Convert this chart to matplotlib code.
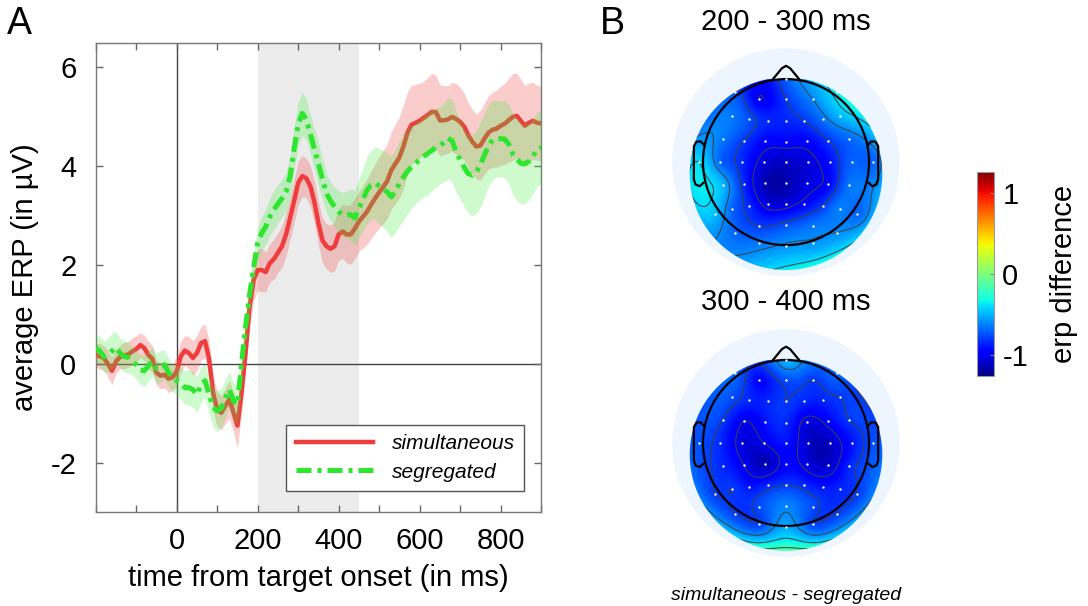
import numpy as np
import matplotlib
matplotlib.use("Agg")
import matplotlib.pyplot as plt
from matplotlib.path import Path
from matplotlib.patches import Circle, PathPatch

plt.rcParams['font.family'] = ['Liberation Sans', 'DejaVu Sans']
plt.rcParams['axes.unicode_minus'] = False

# time axis of the averaged ERPs (ms)
time_ms = np.arange(-200, 901, 10)

# grand average ERP, simultaneous condition (uV)
erp_sim = [
    0.18, 0.15, 0.12, 0.00, -0.14, 0.05, 0.14, 0.17, 0.19, 0.25,
    0.30, 0.38, 0.32, 0.18, 0.10, -0.18, -0.24, -0.22, -0.30, -0.27,
    -0.15, 0.15, 0.27, 0.22, 0.12, 0.22, 0.42, 0.46, 0.10, -0.60,
    -0.92, -0.99, -0.85, -0.72, -0.98, -1.25, -0.60, 0.22, 1.15, 1.70,
    1.90, 1.90, 1.86, 2.04, 2.12, 2.25, 2.38, 2.62, 2.95, 3.30,
    3.66, 3.80, 3.76, 3.60, 3.28, 2.85, 2.50, 2.38, 2.33, 2.38,
    2.62, 2.68, 2.62, 2.62, 2.74, 2.88, 2.98, 3.08, 3.22, 3.35,
    3.47, 3.58, 3.70, 3.92, 4.05, 4.18, 4.40, 4.68, 4.84, 4.88,
    4.92, 4.98, 5.04, 5.10, 5.10, 4.93, 4.93, 4.95, 5.00, 4.96,
    4.90, 4.80, 4.63, 4.50, 4.40, 4.42, 4.56, 4.68, 4.74, 4.76,
    4.82, 4.86, 4.93, 5.00, 5.02, 4.92, 4.82, 4.88, 4.92, 4.88,
    4.87,
]
sem_sim = [
    0.24, 0.26, 0.25, 0.27, 0.28, 0.25, 0.24, 0.27, 0.26, 0.28,
    0.27, 0.25, 0.26, 0.28, 0.27, 0.25, 0.27, 0.26, 0.28, 0.27,
    0.30, 0.32, 0.30, 0.33, 0.35, 0.36, 0.34, 0.35, 0.37, 0.36,
    0.35, 0.34, 0.36, 0.38, 0.40, 0.45, 0.40, 0.38, 0.40, 0.42,
    0.42, 0.44, 0.40, 0.38, 0.41, 0.40, 0.42, 0.44, 0.43, 0.45,
    0.44, 0.42, 0.40, 0.41, 0.43, 0.44, 0.45, 0.46, 0.48, 0.50,
    0.52, 0.55, 0.58, 0.60, 0.62, 0.60, 0.64, 0.66, 0.68, 0.70,
    0.72, 0.74, 0.76, 0.78, 0.80, 0.82, 0.85, 0.82, 0.80, 0.78,
    0.76, 0.74, 0.76, 0.78, 0.75, 0.72, 0.70, 0.68, 0.70, 0.72,
    0.70, 0.68, 0.66, 0.65, 0.66, 0.70, 0.72, 0.74, 0.76, 0.78,
    0.80, 0.82, 0.85, 0.88, 0.86, 0.84, 0.82, 0.80, 0.78, 0.76,
    0.75,
]

# grand average ERP, segregated condition (uV)
erp_seg = [
    0.33, 0.26, 0.14, 0.18, 0.26, 0.33, 0.22, 0.15, 0.13, 0.06,
    -0.02, -0.12, -0.14, -0.04, 0.05, -0.10, -0.05, -0.02, -0.18, -0.28,
    -0.34, -0.40, -0.48, -0.48, -0.52, -0.62, -0.42, -0.34, -0.62, -0.88,
    -0.95, -0.90, -0.70, -0.52, -0.75, -0.82, 0.00, 0.75, 1.40, 1.95,
    2.45, 2.65, 2.78, 2.98, 3.12, 3.24, 3.35, 3.48, 3.79, 4.35,
    4.85, 5.07, 4.95, 4.66, 4.35, 4.05, 3.74, 3.45, 3.30, 3.18,
    3.08, 3.02, 3.02, 3.02, 2.95, 3.15, 3.33, 3.52, 3.62, 3.66,
    3.60, 3.54, 3.48, 3.38, 3.50, 3.65, 3.78, 3.90, 3.99, 4.06,
    4.13, 4.20, 4.26, 4.32, 4.38, 4.42, 4.48, 4.57, 4.52, 4.30,
    4.13, 3.98, 3.85, 3.82, 3.88, 4.03, 4.22, 4.42, 4.53, 4.56,
    4.56, 4.55, 4.45, 4.25, 4.15, 4.06, 4.05, 4.10, 4.20, 4.35,
    4.38,
]
sem_seg = [
    0.28, 0.30, 0.32, 0.34, 0.36, 0.33, 0.30, 0.32, 0.31, 0.29,
    0.28, 0.30, 0.32, 0.31, 0.29, 0.30, 0.32, 0.30, 0.29, 0.28,
    0.30, 0.32, 0.34, 0.36, 0.35, 0.37, 0.36, 0.34, 0.38, 0.40,
    0.42, 0.40, 0.38, 0.36, 0.38, 0.40, 0.36, 0.34, 0.32, 0.30,
    0.32, 0.34, 0.36, 0.38, 0.40, 0.39, 0.38, 0.40, 0.42, 0.44,
    0.45, 0.44, 0.42, 0.40, 0.42, 0.44, 0.42, 0.40, 0.38, 0.40,
    0.42, 0.45, 0.48, 0.52, 0.55, 0.60, 0.64, 0.68, 0.70, 0.74,
    0.76, 0.78, 0.80, 0.82, 0.84, 0.86, 0.88, 0.86, 0.84, 0.82,
    0.80, 0.82, 0.84, 0.82, 0.80, 0.78, 0.80, 0.82, 0.84, 0.82,
    0.80, 0.78, 0.80, 0.82, 0.84, 0.86, 0.84, 0.82, 0.80, 0.78,
    0.76, 0.78, 0.80, 0.82, 0.84, 0.82, 0.80, 0.78, 0.76, 0.75,
    0.74,
]

window_ms = (200, 450)

# electrode positions on the unit head (x: left-right, y: back-front)
elec_x = [
    0.0,
    -0.61, -0.32, 0.0, 0.32, 0.61,
    -0.65, -0.44, -0.22, 0.0, 0.22, 0.44, 0.65,
    -0.76, -0.51, -0.25, 0.0, 0.25, 0.51, 0.76,
    -1.05, -0.79, -0.53, -0.27, 0.0, 0.27, 0.53, 0.79, 1.05,
    -0.76, -0.51, -0.25, 0.0, 0.25, 0.51, 0.76,
    -0.85, -0.65, -0.44, -0.22, 0.0, 0.22, 0.44, 0.65, 0.85,
    -0.61, -0.32, 0.0, 0.32, 0.61,
    -0.32, 0.0, 0.32,
]
elec_y = [
    1.0,
    0.84, 0.76, 0.76, 0.76, 0.84,
    0.55, 0.52, 0.50, 0.50, 0.50, 0.52, 0.55,
    0.28, 0.26, 0.25, 0.24, 0.25, 0.26, 0.28,
    0.0, 0.0, 0.0, 0.0, 0.0, 0.0, 0.0, 0.0, 0.0,
    -0.28, -0.26, -0.25, -0.25, -0.25, -0.26, -0.28,
    -0.62, -0.56, -0.53, -0.51, -0.51, -0.51, -0.53, -0.56, -0.62,
    -0.85, -0.77, -0.76, -0.77, -0.85,
    -0.98, -1.01, -0.98,
]

# simultaneous - segregated difference per electrode (uV)
topo_200_300 = [
    -0.70,
    -0.75, -1.00, -0.80, -0.60, -0.35,
    -0.65, -0.75, -0.85, -0.85, -0.80, -0.65, -0.48,
    -0.65, -0.80, -0.95, -0.95, -0.95, -0.80, -0.68,
    -0.40, -0.70, -0.85, -1.05, -1.10, -1.05, -0.90, -0.70, -0.70,
    -0.50, -0.85, -1.15, -1.15, -1.05, -0.95, -0.65,
    -0.48, -0.70, -0.85, -1.05, -1.05, -0.95, -0.80, -0.62, -0.70,
    -0.70, -0.80, -0.75, -0.65, -0.60,
    -0.65, -0.58, -0.58,
]
topo_300_400 = [
    -0.50,
    -0.70, -0.95, -0.75, -0.80, -0.70,
    -0.75, -0.85, -0.85, -0.80, -0.85, -0.85, -0.80,
    -0.80, -1.00, -0.90, -0.85, -1.05, -0.95, -0.80,
    -0.75, -0.85, -1.05, -1.00, -0.90, -1.10, -1.10, -0.90, -0.75,
    -0.85, -1.00, -1.15, -0.95, -1.05, -1.10, -0.85,
    -0.80, -0.80, -0.90, -0.85, -0.80, -0.85, -0.90, -0.85, -0.80,
    -0.80, -0.75, -0.62, -0.75, -0.80,
    -0.78, -0.52, -0.78,
]
topo_titles = ["200 - 300 ms", "300 - 400 ms"]
clim = 1.26


def biharmonic_grid(x, y, z, gx, gy):
    # biharmonic spline surface through the electrode values (matlab griddata 'v4')
    x, y, z = np.asarray(x), np.asarray(y), np.asarray(z)
    d = np.hypot(x[:, None] - x[None, :], y[:, None] - y[None, :])
    with np.errstate(divide='ignore', invalid='ignore'):
        g = np.where(d > 0, d ** 2 * (np.log(d) - 1), 0.0)
    w = np.linalg.solve(g, z)
    dg = np.hypot(gx.ravel()[:, None] - x[None, :], gy.ravel()[:, None] - y[None, :])
    with np.errstate(divide='ignore', invalid='ignore'):
        gg = np.where(dg > 0, dg ** 2 * (np.log(dg) - 1), 0.0)
    return (gg @ w).reshape(gx.shape)


def topoplot(ax, values):
    ax.add_patch(Circle((0, 0), 1.37, facecolor=(0.93, 0.96, 1.0), edgecolor='none', zorder=0))

    gv = np.linspace(-1.35, 1.35, 271)
    gx, gy = np.meshgrid(gv, gv)
    zi = biharmonic_grid(elec_x, elec_y, values, gx, gy)

    # interpolated area: disc slightly below the head centre, cut at the vertex
    th = np.linspace(0, 2 * np.pi, 400)
    rim = np.column_stack([1.16 * np.cos(th), np.minimum(-0.14 + 1.16 * np.sin(th), 1.0)])
    clip = PathPatch(Path(rim), facecolor='none', edgecolor='none', transform=ax.transData)
    ax.add_patch(clip)

    im = ax.imshow(zi, extent=(-1.35, 1.35, -1.35, 1.35), origin='lower', cmap='jet',
                   vmin=-clim, vmax=clim, interpolation='bilinear', zorder=1)
    im.set_clip_path(clip)
    cs = ax.contour(gx, gy, zi, levels=np.arange(-1.2, 0.01, 0.2), colors='#404040',
                    linewidths=0.8, linestyles='solid', alpha=0.9, zorder=2)
    cs.set_clip_path(clip)

    # head outline, nose and ears
    ax.add_patch(Circle((0, 0), 1.0, fill=False, edgecolor='black', lw=1.6, zorder=4))
    ax.plot([-0.17, -0.05, 0.0, 0.05, 0.17], [0.985, 1.13, 1.16, 1.13, 0.985], color='black', lw=1.6, zorder=4)
    for s in (-1, 1):
        ax.plot([s * 0.99, s * 1.03, s * 1.08, s * 1.11, s * 1.11, s * 1.09, s * 1.04, s * 0.995],
                [0.21, 0.25, 0.245, 0.19, -0.21, -0.27, -0.29, -0.25], color='black', lw=1.6, zorder=4)
    ax.scatter(elec_x, elec_y, s=3, c='white', linewidths=0, zorder=5)

    ax.set_xlim(-1.5, 1.5)
    ax.set_ylim(-1.5, 1.5)
    ax.set_aspect('equal')
    ax.axis('off')
    return im


fig = plt.figure(figsize=(10.88, 6.06), dpi=100)

# A: ERP time courses
ax = fig.add_axes([0.088, 0.155, 0.4093, 0.7744])
ax.axvspan(*window_ms, color='#ececec', lw=0, zorder=0)
ax.axhline(0, color='#444444', lw=1.0, zorder=1)
ax.axvline(0, color='#444444', lw=1.0, zorder=1)

lo_sim = np.array(erp_sim) - np.array(sem_sim)
hi_sim = np.array(erp_sim) + np.array(sem_sim)
lo_seg = np.array(erp_seg) - np.array(sem_seg)
hi_seg = np.array(erp_seg) + np.array(sem_seg)

ax.fill_between(time_ms, lo_sim, hi_sim, color='#f04848', alpha=0.28, lw=0, zorder=2)
ax.plot(time_ms, erp_sim, color='#f03c3c', lw=3.2, label='simultaneous', zorder=3)
ax.fill_between(time_ms, lo_seg, hi_seg, color='#3cee3c', alpha=0.25, lw=0, zorder=4)
ax.plot(time_ms, erp_seg, color='#2ee62e', lw=3.6, dashes=(3, 1.2, 0.8, 1.2),
        label='segregated', zorder=5)

ax.set_xlim(-200, 900)
ax.set_ylim(-3, 6.5)
xt = list(range(-200, 901, 100))
ax.set_xticks(xt)
ax.set_xticklabels([str(t) if (t >= 0 and t % 200 == 0 and t < 900) else '' for t in xt])
ax.set_yticks([-2, 0, 2, 4, 6])
ax.tick_params(direction='in', top=True, right=True, length=5, width=1,
               color='#666666', labelsize=21)
ax.tick_params(axis='x', pad=11)
ax.tick_params(axis='y', pad=14)
for sp in ax.spines.values():
    sp.set_color('#777777')
    sp.set_linewidth(1.0)
ax.set_xlabel('time from target onset (in ms)', fontsize=21, labelpad=6)
ax.set_ylabel('average ERP (in µV)', fontsize=21, labelpad=8)

leg = ax.legend(loc='lower right', bbox_to_anchor=(0.962, 0.045),
                prop={'style': 'italic', 'size': 15}, fancybox=False, framealpha=1,
                edgecolor='#555555', handlelength=3.7, handletextpad=0.9,
                borderpad=0.45, labelspacing=0.45, borderaxespad=0)
leg.get_frame().set_linewidth(1.0)

# B: scalp maps of the condition difference
topo_axes = [fig.add_axes([0.608, 0.527, 0.2289, 0.411]),
             fig.add_axes([0.608, 0.0635, 0.2289, 0.411])]
for tax, vals in zip(topo_axes, [topo_200_300, topo_300_400]):
    im = topoplot(tax, vals)

fig.text(786 / 1088, 1 - 22 / 606, topo_titles[0], ha='center', va='center', fontsize=21)
fig.text(786 / 1088, 1 - 302 / 606, topo_titles[1], ha='center', va='center', fontsize=21)
fig.text(786 / 1088, 1 - 595 / 606, 'simultaneous - segregated', ha='center', va='center',
         fontsize=14, style='italic')

cax = fig.add_axes([0.898, 0.3795, 0.0156, 0.3366])
cb = fig.colorbar(im, cax=cax, ticks=[-1, 0, 1])
cb.outline.set_edgecolor('#999999')
cb.outline.set_linewidth(0.8)
cax.tick_params(labelsize=21, length=3, direction='in', color='#888888', pad=6)
cb.set_label('erp difference', fontsize=21, labelpad=16)

fig.text(19 / 1088, 1 - 24 / 606, 'A', ha='center', va='center', fontsize=27)
fig.text(612 / 1088, 1 - 24 / 606, 'B', ha='center', va='center', fontsize=27)

fig.savefig('out.png', dpi=100)
